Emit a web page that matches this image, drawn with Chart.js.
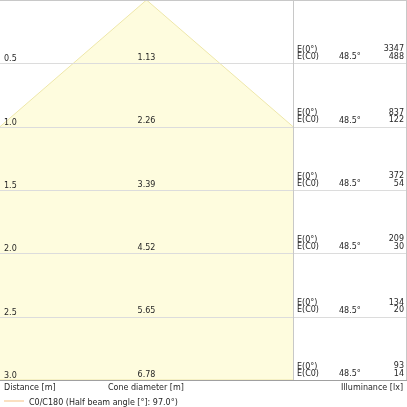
<!DOCTYPE html>
<html>
<head>
<meta charset="utf-8">
<script src="https://cdn.jsdelivr.net/npm/chart.js@4/dist/chart.umd.min.js"></script>
<style>
html,body{margin:0;padding:0;background:#fff;}
#wrap{width:407px;height:407px;position:relative;}
</style>
</head>
<body>
<div id="wrap"><canvas id="c"></canvas></div>
<script>
const distances = [0.5, 1.0, 1.5, 2.0, 2.5, 3.0];
const distanceLabels = ["0.5", "1.0", "1.5", "2.0", "2.5", "3.0"];
const coneDiameters = [1.13, 2.26, 3.39, 4.52, 5.65, 6.78];
const coneLabels = ["1.13", "2.26", "3.39", "4.52", "5.65", "6.78"];
const illumCenter = [3347, 837, 372, 209, 134, 93];
const illumC0 = [488, 122, 54, 30, 20, 14];
const halfAngleLabel = "48.5°";
const legendLabel = "C0/C180 (Half beam angle [°]: 97.0°)";

// closed cone outline: apex -> right edge down -> left edge back up
const conePoints = [{x: 0, y: 0}]
  .concat(distances.map((d, i) => ({x: coneDiameters[i] / 2, y: d})))
  .concat(distances.slice().reverse().map((d, j) => {
    const i = distances.length - 1 - j;
    return {x: -coneDiameters[i] / 2, y: d};
  }))
  .concat([{x: 0, y: 0}]);

const FONT = '8px "DejaVu Sans"';
const TXT = '#262626';

const panelPlugin = {
  id: 'panel',
  afterDatasetsDraw(chart) {
    const ctx = chart.ctx;
    const ys = chart.scales.y;
    const xs = chart.scales.x;
    const area = chart.chartArea;
    const W = chart.width;
    ctx.save();
    ctx.lineWidth = 1;
    ctx.strokeStyle = '#dcdcdc';
    distances.forEach((d, i) => {
      if (i === distances.length - 1) return;
      const y = Math.round(ys.getPixelForValue(d)) + 0.5;
      ctx.beginPath(); ctx.moveTo(0, y); ctx.lineTo(W, y); ctx.stroke();
    });
    ctx.strokeStyle = '#c8c8c8';
    ctx.beginPath(); ctx.moveTo(0, 0.5); ctx.lineTo(W, 0.5); ctx.stroke();
    const yb = Math.round(ys.getPixelForValue(distances[distances.length - 1])) + 0.5;
    const xr = Math.round(area.right) + 0.5;
    ctx.beginPath(); ctx.moveTo(xr, 0); ctx.lineTo(xr, yb); ctx.stroke();
    ctx.beginPath(); ctx.moveTo(W - 0.5, 0); ctx.lineTo(W - 0.5, yb); ctx.stroke();
    ctx.strokeStyle = '#a0a0a0';
    ctx.beginPath(); ctx.moveTo(0, yb); ctx.lineTo(W, yb); ctx.stroke();

    ctx.font = FONT;
    ctx.fillStyle = TXT;
    ctx.textBaseline = 'alphabetic';
    const xc = xs.getPixelForValue(0);
    distances.forEach((d, i) => {
      const y = ys.getPixelForValue(d);
      ctx.textAlign = 'left';
      ctx.fillText(distanceLabels[i], 4, y - 2);
      ctx.textAlign = 'center';
      ctx.fillText(coneLabels[i], xc, y - 3.5);
      ctx.textAlign = 'left';
      ctx.fillText('E(0°)', area.right + 4, y - 11.5);
      ctx.fillText('E(C0)', area.right + 4, y - 4.5);
      ctx.fillText(halfAngleLabel, area.right + 46, y - 4);
      ctx.textAlign = 'right';
      ctx.fillText(String(illumCenter[i]), W - 3, y - 12);
      ctx.fillText(String(illumC0[i]), W - 3, y - 4.5);
    });
    ctx.textAlign = 'left';
    ctx.fillText('Distance [m]', 4, yb + 9);
    ctx.fillText('Cone diameter [m]', 108, yb + 9);
    ctx.textAlign = 'right';
    ctx.fillText('Illuminance [lx]', W - 4, yb + 9);
    ctx.strokeStyle = 'rgb(248,214,172)';
    ctx.lineWidth = 1.5;
    ctx.beginPath(); ctx.moveTo(4, yb + 20.5); ctx.lineTo(24, yb + 20.5); ctx.stroke();
    ctx.textAlign = 'left';
    ctx.fillText(legendLabel, 29, yb + 24);
    ctx.restore();
  }
};

new Chart(document.getElementById('c'), {
  type: 'line',
  data: {
    datasets: [
      {
        label: 'cone',
        data: conePoints,
        borderColor: 'rgb(238,231,170)',
        borderWidth: 1,
        pointRadius: 0,
        backgroundColor: 'rgb(254,252,222)',
        fill: 'shape',
        tension: 0,
        clip: 0
      }
    ]
  },
  options: {
    responsive: true,
    maintainAspectRatio: false,
    animation: false,
    events: [],
    layout: {padding: {left: 0, right: 114, top: 0, bottom: 27}},
    plugins: {legend: {display: false}, tooltip: {enabled: false}},
    scales: {
      x: {type: 'linear', min: -1.13, max: 1.13, display: false},
      y: {type: 'linear', min: 0, max: 3.0, reverse: true, display: false}
    }
  },
  plugins: [panelPlugin]
});
</script>
</body>
</html>
